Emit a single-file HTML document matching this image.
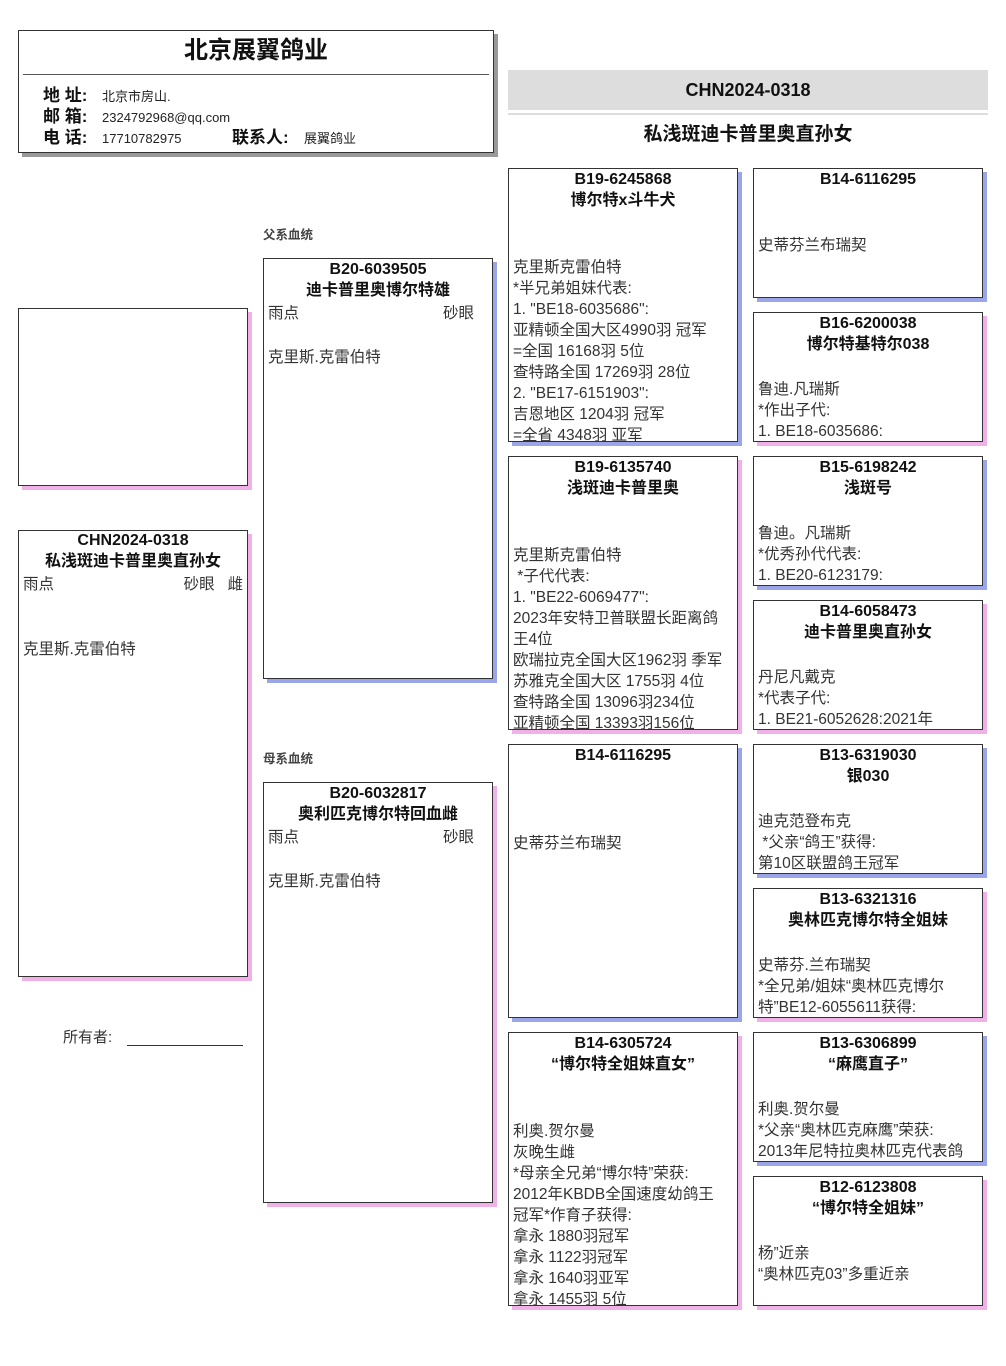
<!DOCTYPE html>
<html><head><meta charset="utf-8">
<style>
*{margin:0;padding:0;box-sizing:border-box}
body{width:1006px;height:1366px;background:#fff;position:relative;overflow:hidden;font-family:"Liberation Sans","Noto Sans CJK SC",sans-serif;color:#222}
.b{position:absolute;border:1px solid #333;background:#fff;overflow:hidden}
.m{box-shadow:4px 4px 0 #9aa6e8}
.f{box-shadow:4px 4px 0 #f0b0e8}
.g{box-shadow:4px 4px 0 #999}
.t{position:absolute;left:0;right:0;top:0;text-align:center;font-weight:bold;font-size:16px;line-height:21px;color:#111}
.c{position:absolute;left:4px;right:2px;font-size:15.5px;line-height:21px;color:#333;white-space:nowrap}
.abs{position:absolute}
</style></head><body>

<div class="b g" style="left:18px;top:30px;width:476px;height:123px">
 <div class="abs" style="left:0;right:0;top:5px;text-align:center;font-weight:bold;font-size:24px;line-height:30px;color:#111">北京展翼鸽业</div>
 <div class="abs" style="left:4px;right:4px;top:43px;border-top:1px solid #555"></div>
 <div class="abs" style="left:24px;top:54px;font-size:17px;font-weight:bold;line-height:21px;color:#111">地 址:<br>邮 箱:<br>电 话:</div>
 <div class="abs" style="left:83px;top:55px;font-size:13px;line-height:21px;color:#222">北京市房山.<br>2324792968@qq.com<br>17710782975</div>
 <div class="abs" style="left:213px;top:96px;font-size:17px;font-weight:bold;line-height:21px;color:#111">联系人:</div>
 <div class="abs" style="left:285px;top:97px;font-size:13px;line-height:21px;color:#222">展翼鸽业</div>
</div>

<div class="abs" style="left:508px;top:70px;width:480px;height:40px;background:#ddd;text-align:center;font-weight:bold;font-size:18px;line-height:40px;color:#111">CHN2024-0318</div>
<div class="abs" style="left:508px;top:113px;width:480px;height:2px;background:#ddd"></div>
<div class="abs" style="left:508px;top:122px;width:480px;text-align:center;font-weight:bold;font-size:19px;line-height:26px;color:#111">私浅斑迪卡普里奥直孙女</div>

<div class="b f" style="left:18px;top:308px;width:230px;height:178px"></div>

<div class="b f" style="left:18px;top:530px;width:230px;height:447px">
 <div class="t" style="top:-1px">CHN2024-0318<br>私浅斑迪卡普里奥直孙女</div>
 <div class="c" style="top:43px">雨点</div>
 <div class="c" style="top:43px;left:auto;right:4px">砂眼&nbsp;&nbsp;&nbsp;雌</div>
 <div class="c" style="top:108px">克里斯.克雷伯特</div>
</div>

<div class="abs" style="left:63px;top:1028px;font-size:15px;line-height:20px;color:#333">所有者:</div>
<div class="abs" style="left:127px;top:1045px;width:116px;border-top:1px solid #333"></div>

<div class="abs" style="left:263px;top:224px;font-size:12.5px;font-weight:bold;color:#444">父系血统</div>
<div class="b m" style="left:263px;top:258px;width:230px;height:421px">
 <div class="t">B20-6039505<br>迪卡普里奥博尔特雄</div>
 <div class="c" style="top:44px">雨点</div>
 <div class="c" style="top:44px;left:auto;right:18px">砂眼</div>
 <div class="c" style="top:88px">克里斯.克雷伯特</div>
</div>

<div class="abs" style="left:263px;top:748px;font-size:12.5px;font-weight:bold;color:#444">母系血统</div>
<div class="b f" style="left:263px;top:782px;width:230px;height:421px">
 <div class="t">B20-6032817<br>奥利匹克博尔特回血雌</div>
 <div class="c" style="top:44px">雨点</div>
 <div class="c" style="top:44px;left:auto;right:18px">砂眼</div>
 <div class="c" style="top:88px">克里斯.克雷伯特</div>
</div>

<div class="b m" style="left:508px;top:168px;width:230px;height:274px">
 <div class="t">B19-6245868<br>博尔特x斗牛犬</div>
 <div class="c" style="top:88px">克里斯克雷伯特<br>*半兄弟姐妹代表:<br>1. "BE18-6035686":<br>亚精顿全国大区4990羽 冠军<br>=全国 16168羽 5位<br>查特路全国 17269羽 28位<br>2. "BE17-6151903":<br>吉恩地区 1204羽 冠军<br>=全省 4348羽 亚军</div>
</div>
<div class="b f" style="left:508px;top:456px;width:230px;height:274px">
 <div class="t">B19-6135740<br>浅斑迪卡普里奥</div>
 <div class="c" style="top:88px">克里斯克雷伯特<br>&nbsp;*子代代表:<br>1. "BE22-6069477":<br>2023年安特卫普联盟长距离鸽<br>王4位<br>欧瑞拉克全国大区1962羽 季军<br>苏雅克全国大区 1755羽 4位<br>查特路全国 13096羽234位<br>亚精顿全国 13393羽156位</div>
</div>
<div class="b m" style="left:508px;top:744px;width:230px;height:274px">
 <div class="t">B14-6116295</div>
 <div class="c" style="top:88px">史蒂芬兰布瑞契</div>
</div>
<div class="b f" style="left:508px;top:1032px;width:230px;height:274px">
 <div class="t">B14-6305724<br>“博尔特全姐妹直女”</div>
 <div class="c" style="top:88px">利奥.贺尔曼<br>灰晚生雌<br>*母亲全兄弟“博尔特”荣获:<br>2012年KBDB全国速度幼鸽王<br>冠军*作育子获得:<br>拿永 1880羽冠军<br>拿永 1122羽冠军<br>拿永 1640羽亚军<br>拿永 1455羽 5位</div>
</div>

<div class="b m" style="left:753px;top:168px;width:230px;height:130px">
 <div class="t">B14-6116295</div>
 <div class="c" style="top:66px">史蒂芬兰布瑞契</div>
</div>
<div class="b f" style="left:753px;top:312px;width:230px;height:130px">
 <div class="t">B16-6200038<br>博尔特基特尔038</div>
 <div class="c" style="top:66px">鲁迪.凡瑞斯<br>*作出子代:<br>1. BE18-6035686:</div>
</div>
<div class="b m" style="left:753px;top:456px;width:230px;height:130px">
 <div class="t">B15-6198242<br>浅斑号</div>
 <div class="c" style="top:66px">鲁迪。凡瑞斯<br>*优秀孙代代表:<br>1. BE20-6123179:</div>
</div>
<div class="b f" style="left:753px;top:600px;width:230px;height:130px">
 <div class="t">B14-6058473<br>迪卡普里奥直孙女</div>
 <div class="c" style="top:66px">丹尼凡戴克<br>*代表子代:<br>1. BE21-6052628:2021年</div>
</div>
<div class="b m" style="left:753px;top:744px;width:230px;height:130px">
 <div class="t">B13-6319030<br>银030</div>
 <div class="c" style="top:66px">迪克范登布克<br>&nbsp;*父亲“鸽王”获得:<br>第10区联盟鸽王冠军</div>
</div>
<div class="b f" style="left:753px;top:888px;width:230px;height:130px">
 <div class="t">B13-6321316<br>奥林匹克博尔特全姐妹</div>
 <div class="c" style="top:66px">史蒂芬.兰布瑞契<br>*全兄弟/姐妹“奥林匹克博尔<br>特”BE12-6055611获得:</div>
</div>
<div class="b m" style="left:753px;top:1032px;width:230px;height:130px">
 <div class="t">B13-6306899<br>“麻鹰直子”</div>
 <div class="c" style="top:66px">利奥.贺尔曼<br>*父亲“奥林匹克麻鹰”荣获:<br>2013年尼特拉奥林匹克代表鸽</div>
</div>
<div class="b f" style="left:753px;top:1176px;width:230px;height:130px">
 <div class="t">B12-6123808<br>“博尔特全姐妹”</div>
 <div class="c" style="top:66px">杨”近亲<br>“奥林匹克03”多重近亲</div>
</div>

</body></html>
